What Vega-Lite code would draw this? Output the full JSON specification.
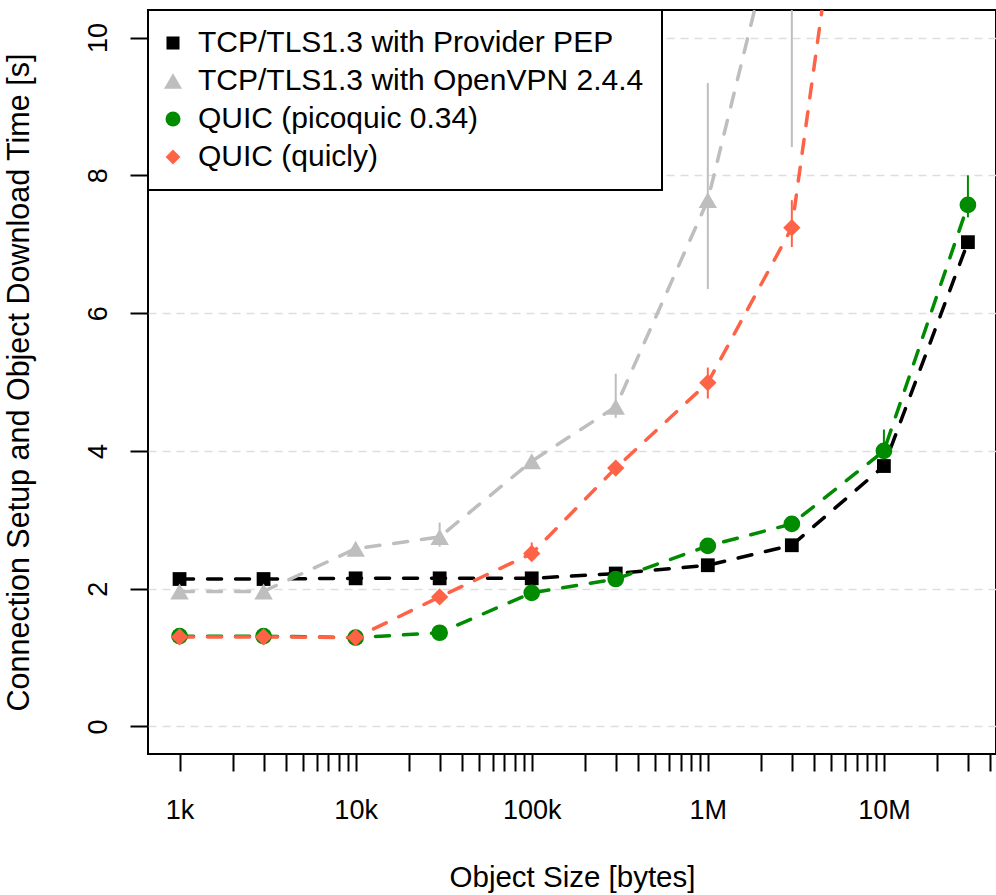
{
  "$schema": "https://vega.github.io/schema/vega-lite/v6.json",
  "width": 848,
  "height": 744,
  "autosize": {"type": "none"},
  "padding": {"left": 148, "top": 10, "right": 0, "bottom": 141},
  "background": "white",
  "config": {
    "font": "Liberation Sans",
    "view": {"stroke": "black", "strokeWidth": 2}
  },
  "datasets": {
    "d": [
      {"s": "TCP/TLS1.3 with Provider PEP", "x": 1000, "y": 2.14},
      {"s": "TCP/TLS1.3 with Provider PEP", "x": 3000, "y": 2.14},
      {"s": "TCP/TLS1.3 with Provider PEP", "x": 10000, "y": 2.15},
      {"s": "TCP/TLS1.3 with Provider PEP", "x": 30000, "y": 2.15},
      {"s": "TCP/TLS1.3 with Provider PEP", "x": 100000, "y": 2.15},
      {"s": "TCP/TLS1.3 with Provider PEP", "x": 300000, "y": 2.22},
      {"s": "TCP/TLS1.3 with Provider PEP", "x": 1000000, "y": 2.34},
      {"s": "TCP/TLS1.3 with Provider PEP", "x": 3000000, "y": 2.63},
      {"s": "TCP/TLS1.3 with Provider PEP", "x": 10000000, "y": 3.78},
      {"s": "TCP/TLS1.3 with Provider PEP", "x": 30000000, "y": 7.03},
      {"s": "TCP/TLS1.3 with OpenVPN 2.4.4", "x": 1000, "y": 1.96},
      {"s": "TCP/TLS1.3 with OpenVPN 2.4.4", "x": 3000, "y": 1.96},
      {"s": "TCP/TLS1.3 with OpenVPN 2.4.4", "x": 10000, "y": 2.58},
      {"s": "TCP/TLS1.3 with OpenVPN 2.4.4", "x": 30000, "y": 2.75, "lo": 2.61, "hi": 2.96},
      {"s": "TCP/TLS1.3 with OpenVPN 2.4.4", "x": 100000, "y": 3.85},
      {"s": "TCP/TLS1.3 with OpenVPN 2.4.4", "x": 300000, "y": 4.64, "lo": 4.48, "hi": 5.12},
      {"s": "TCP/TLS1.3 with OpenVPN 2.4.4", "x": 1000000, "y": 7.64, "lo": 6.35, "hi": 9.34},
      {"s": "TCP/TLS1.3 with OpenVPN 2.4.4", "x": 3000000, "y": 12.6, "lo": 8.41, "hi": 16.0},
      {"s": "QUIC (picoquic 0.34)", "x": 1000, "y": 1.31},
      {"s": "QUIC (picoquic 0.34)", "x": 3000, "y": 1.31},
      {"s": "QUIC (picoquic 0.34)", "x": 10000, "y": 1.29},
      {"s": "QUIC (picoquic 0.34)", "x": 30000, "y": 1.36},
      {"s": "QUIC (picoquic 0.34)", "x": 100000, "y": 1.94},
      {"s": "QUIC (picoquic 0.34)", "x": 300000, "y": 2.14},
      {"s": "QUIC (picoquic 0.34)", "x": 1000000, "y": 2.62},
      {"s": "QUIC (picoquic 0.34)", "x": 3000000, "y": 2.94},
      {"s": "QUIC (picoquic 0.34)", "x": 10000000, "y": 4.0, "lo": 3.97, "hi": 4.31},
      {"s": "QUIC (picoquic 0.34)", "x": 30000000, "y": 7.57, "lo": 7.39, "hi": 8.0},
      {"s": "QUIC (quicly)", "x": 1000, "y": 1.3},
      {"s": "QUIC (quicly)", "x": 3000, "y": 1.3},
      {"s": "QUIC (quicly)", "x": 10000, "y": 1.29},
      {"s": "QUIC (quicly)", "x": 30000, "y": 1.88},
      {"s": "QUIC (quicly)", "x": 100000, "y": 2.51, "lo": 2.45, "hi": 2.67},
      {"s": "QUIC (quicly)", "x": 300000, "y": 3.75},
      {"s": "QUIC (quicly)", "x": 1000000, "y": 4.99, "lo": 4.76, "hi": 5.21},
      {"s": "QUIC (quicly)", "x": 3000000, "y": 7.24, "lo": 6.96, "hi": 7.64},
      {"s": "QUIC (quicly)", "x": 10000000, "y": 16.9}
    ]
  },
  "data": {"name": "d"},
  "encoding": {
    "x": {
      "field": "x",
      "type": "quantitative",
      "scale": {"type": "log", "domain": [662, 43310000], "nice": false},
      "axis": {
        "title": "Object Size [bytes]",
        "values": [1000, 2000, 3000, 4000, 5000, 6000, 7000, 8000, 9000, 10000, 20000, 30000, 40000, 50000, 60000, 70000, 80000, 90000, 100000, 200000, 300000, 400000, 500000, 600000, 700000, 800000, 900000, 1000000, 2000000, 3000000, 4000000, 5000000, 6000000, 7000000, 8000000, 9000000, 10000000, 20000000, 30000000, 40000000],
        "labelExpr": "datum.value == 1000 ? '1k' : datum.value == 10000 ? '10k' : datum.value == 100000 ? '100k' : datum.value == 1000000 ? '1M' : datum.value == 10000000 ? '10M' : ''",
        "tickSize": 17,
        "tickWidth": 2,
        "tickColor": "black",
        "labelFontSize": 27,
        "labelColor": "black",
        "labelPadding": 26,
        "labelOverlap": false,
        "labelFlush": false,
        "labelBound": false,
        "grid": false,
        "domain": false,
        "titleFontSize": 29.5,
        "titleFontWeight": "normal",
        "titleColor": "black",
        "titlePadding": 40
      }
    },
    "y": {
      "field": "y",
      "type": "quantitative",
      "scale": {"domain": [-0.4, 10.4], "nice": false, "zero": false},
      "axis": {
        "title": "Connection Setup and Object Download Time [s]",
        "values": [0, 2, 4, 6, 8, 10],
        "tickSize": 18,
        "tickWidth": 2,
        "tickColor": "black",
        "labelAngle": -90,
        "labelAlign": "center",
        "labelBaseline": "bottom",
        "labelFontSize": 27,
        "labelPadding": 18,
        "labelColor": "black",
        "labelFlush": false,
        "labelOverlap": false,
        "grid": true,
        "gridColor": "#DDDDDD",
        "gridDash": [8, 6],
        "gridWidth": 1.5,
        "domain": false,
        "titleFontSize": 30.5,
        "titleFontWeight": "normal",
        "titleColor": "black",
        "titlePadding": 50
      }
    }
  },
  "layer": [
    {
      "mark": {"type": "line", "clip": true, "strokeWidth": 3.5, "strokeDash": [14, 14], "strokeCap": "round"},
      "encoding": {
        "stroke": {
          "field": "s",
          "type": "nominal",
          "scale": {"domain": ["QUIC (quicly)", "QUIC (picoquic 0.34)", "TCP/TLS1.3 with OpenVPN 2.4.4", "TCP/TLS1.3 with Provider PEP"], "range": ["#FF6347", "#008B00", "#BEBEBE", "#000000"]},
          "legend": null
        }
      }
    },
    {
      "transform": [{"filter": "isValid(datum.lo)"}],
      "mark": {"type": "rule", "clip": true, "strokeWidth": 2},
      "encoding": {
        "y": {"field": "lo", "type": "quantitative"},
        "y2": {"field": "hi"},
        "stroke": {
          "field": "s",
          "type": "nominal",
          "scale": {"domain": ["QUIC (quicly)", "QUIC (picoquic 0.34)", "TCP/TLS1.3 with OpenVPN 2.4.4", "TCP/TLS1.3 with Provider PEP"], "range": ["#FF6347", "#008B00", "#BEBEBE", "#000000"]},
          "legend": null
        }
      }
    },
    {
      "mark": {"type": "point", "filled": true, "opacity": 1, "clip": true, "strokeWidth": 0},
      "encoding": {
        "color": {
          "field": "s",
          "type": "nominal",
          "title": null,
          "scale": {"domain": ["TCP/TLS1.3 with Provider PEP", "TCP/TLS1.3 with OpenVPN 2.4.4", "QUIC (picoquic 0.34)", "QUIC (quicly)"], "range": ["#000000", "#BEBEBE", "#008B00", "#FF6347"]},
          "legend": {
            "orient": "top-left",
            "offset": 0,
            "fillColor": "white",
            "strokeColor": "black",
            "padding": 18,
            "labelFont": "Liberation Sans",
            "labelFontSize": 30,
            "labelColor": "black",
            "labelOffset": 10,
            "labelLimit": 1000,
            "rowPadding": 8,
            "symbolSize": 230,
            "symbolOffset": -8,
            "symbolStrokeWidth": 0,
            "symbolOpacity": 1,
            "encode": {
              "legend": {"update": {"strokeWidth": {"value": 2}}},
              "symbols": {"update": {"size": {"signal": "datum.value == 'TCP/TLS1.3 with Provider PEP' ? 170 : datum.value == 'TCP/TLS1.3 with OpenVPN 2.4.4' ? 330 : datum.value == 'QUIC (picoquic 0.34)' ? 225 : 220"}}}
            }
          }
        },
        "shape": {
          "field": "s",
          "type": "nominal",
          "title": null,
          "scale": {"domain": ["TCP/TLS1.3 with Provider PEP", "TCP/TLS1.3 with OpenVPN 2.4.4", "QUIC (picoquic 0.34)", "QUIC (quicly)"], "range": ["square", "triangle-up", "circle", "diamond"]},
          "legend": {
            "orient": "top-left",
            "offset": 0,
            "fillColor": "white",
            "strokeColor": "black",
            "padding": 18,
            "labelFont": "Liberation Sans",
            "labelFontSize": 30,
            "labelColor": "black",
            "labelOffset": 10,
            "labelLimit": 1000,
            "rowPadding": 8,
            "symbolSize": 230,
            "symbolOffset": -8,
            "symbolStrokeWidth": 0,
            "symbolOpacity": 1,
            "encode": {
              "legend": {"update": {"strokeWidth": {"value": 2}}},
              "symbols": {"update": {"size": {"signal": "datum.value == 'TCP/TLS1.3 with Provider PEP' ? 170 : datum.value == 'TCP/TLS1.3 with OpenVPN 2.4.4' ? 330 : datum.value == 'QUIC (picoquic 0.34)' ? 225 : 220"}}}
            }
          }
        },
        "size": {
          "condition": [
            {"test": "datum.s == 'TCP/TLS1.3 with OpenVPN 2.4.4'", "value": 340},
            {"test": "datum.s == 'QUIC (picoquic 0.34)'", "value": 279},
            {"test": "datum.s == 'QUIC (quicly)'", "value": 300}
          ],
          "value": 190
        }
      }
    }
  ]
}
